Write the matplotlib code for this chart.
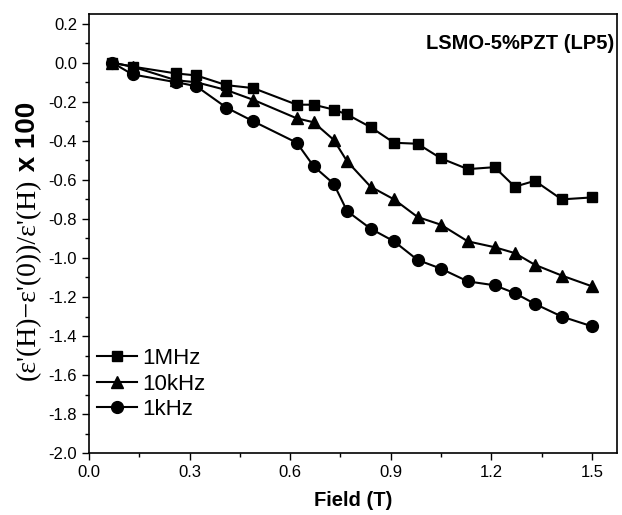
import numpy as np
import matplotlib
matplotlib.use('Agg')
import matplotlib.pyplot as plt
from matplotlib.ticker import MultipleLocator

plt.rcParams['font.family'] = ['Liberation Sans', 'DejaVu Sans']

# field values (T), same for all three frequencies
field = [0.07, 0.13, 0.26, 0.32, 0.41, 0.49, 0.62, 0.67, 0.73, 0.77,
         0.84, 0.91, 0.98, 1.05, 1.13, 1.21, 1.27, 1.33, 1.41, 1.50]

mhz1 = [0.0, -0.02, -0.055, -0.065, -0.115, -0.13, -0.215, -0.215, -0.24, -0.265,
        -0.33, -0.41, -0.415, -0.49, -0.545, -0.535, -0.635, -0.605, -0.70, -0.69]
khz10 = [0.0, -0.02, -0.09, -0.10, -0.14, -0.19, -0.285, -0.305, -0.395, -0.505,
         -0.635, -0.70, -0.79, -0.83, -0.915, -0.945, -0.975, -1.035, -1.09, -1.145]
khz1 = [0.0, -0.06, -0.10, -0.12, -0.23, -0.30, -0.41, -0.53, -0.62, -0.76,
        -0.85, -0.915, -1.01, -1.055, -1.12, -1.14, -1.18, -1.235, -1.30, -1.35]

labels = ['1MHz', '10kHz', '1kHz']
markers = ['s', '^', 'o']
sizes = [7.5, 9, 8.5]

fig = plt.figure(figsize=(6.22, 5.15), dpi=100)
ax = fig.add_axes([0.143, 0.12, 0.849, 0.853])

for y, lab, m, ms in zip([mhz1, khz10, khz1], labels, markers, sizes):
    ax.plot(field, y, color='black', lw=1.5, marker=m, ms=ms, label=lab)

ax.set_xlim(0, 1.575)
ax.set_ylim(-2.0, 0.25)
ax.xaxis.set_major_locator(MultipleLocator(0.3))
ax.xaxis.set_minor_locator(MultipleLocator(0.15))
ax.yaxis.set_major_locator(MultipleLocator(0.2))
ax.yaxis.set_minor_locator(MultipleLocator(0.1))
ax.xaxis.set_major_formatter(plt.FormatStrFormatter('%.1f'))
ax.yaxis.set_major_formatter(plt.FormatStrFormatter('%.1f'))
ax.tick_params(which='both', direction='out', top=False, right=False, labelsize=12)
ax.tick_params(which='major', length=5, width=1)
ax.tick_params(which='minor', length=3, width=1)
for s in ax.spines.values():
    s.set_linewidth(1.2)

ax.set_xlabel('Field (T)', fontsize=14.5, fontweight='bold', labelpad=8)

# y label: serif ratio part + bold sans "x 100"
lx = 0.045
t1 = fig.text(lx, 0.262, "(ε'(H)−ε'(0))/ε'(H)", rotation=90, ha='center', va='bottom',
              family='Liberation Serif', fontsize=20)
fig.canvas.draw()
bb = t1.get_window_extent()
fig.text(lx, bb.y1 / fig.bbox.height, ' x 100', rotation=90, ha='center', va='bottom',
         fontsize=20, fontweight='bold')

ax.text(0.995, 0.955, 'LSMO-5%PZT (LP5)', transform=ax.transAxes, ha='right', va='top',
        fontsize=14.5, fontweight='bold')

ax.legend(loc='lower left', bbox_to_anchor=(-0.01, 0.045), frameon=False, fontsize=16,
          handlelength=1.8, handletextpad=0.25, labelspacing=0.2, borderaxespad=0.2)

fig.savefig('out.png', dpi=100)
